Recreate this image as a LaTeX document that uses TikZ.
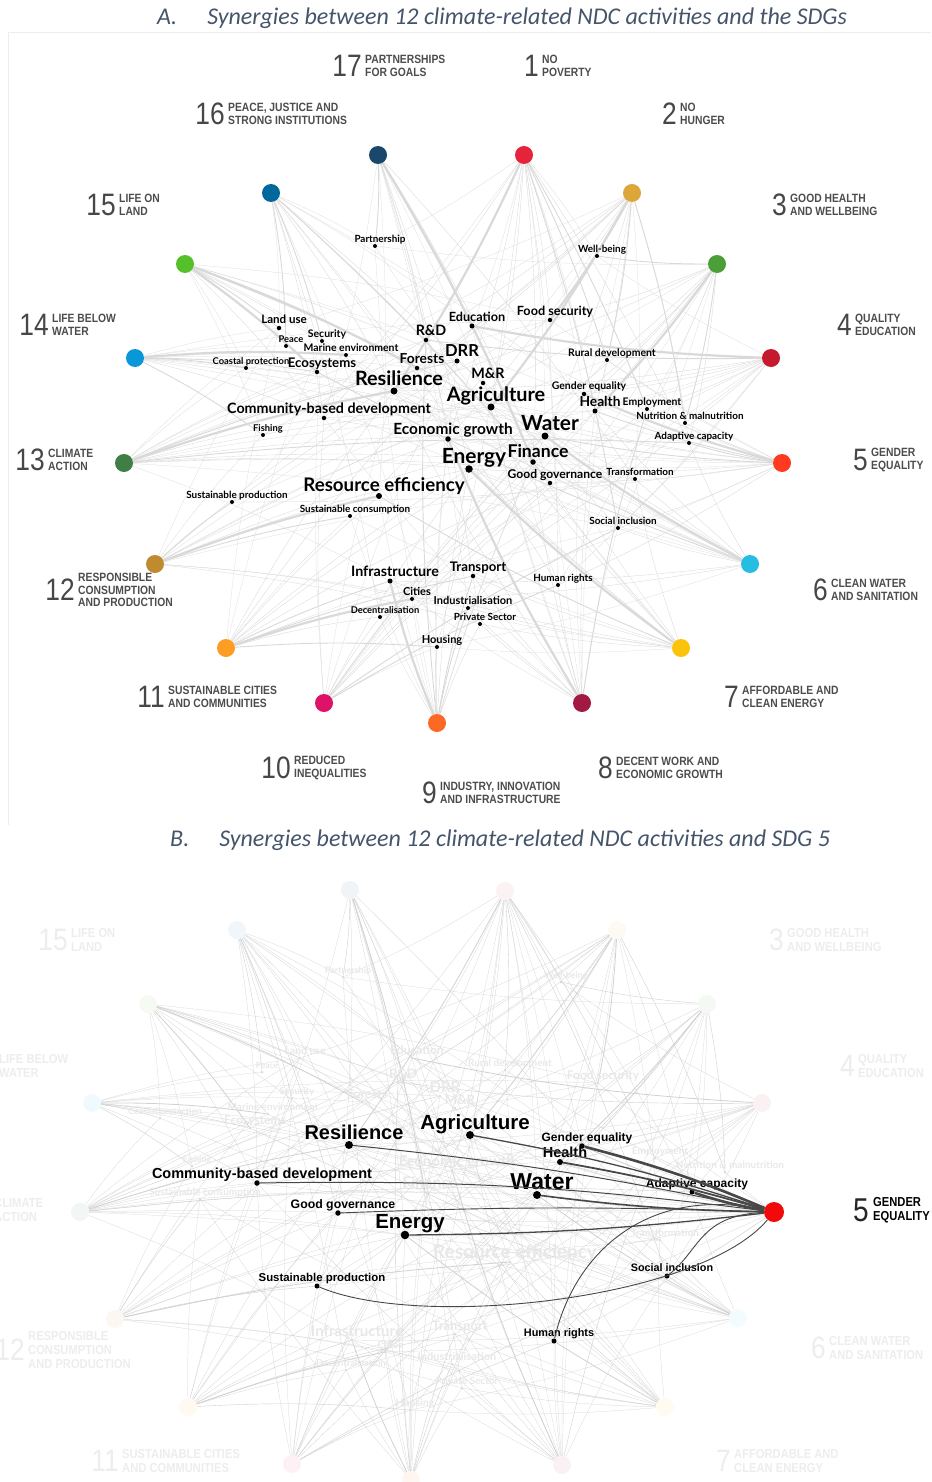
\documentclass[tikz,border=0pt]{standalone}
\usepackage{fontspec}
\setmainfont{Lato}
\newfontfamily\capfont[FakeStretch=0.86]{Liberation Sans}
\newfontfamily\numfont[FakeStretch=0.85]{Liberation Sans}
\newfontfamily\hlfont{Liberation Sans}
\newfontfamily\titlefont{Carlito}
\usetikzlibrary{backgrounds}

\definecolor{sdg1}{HTML}{E5243B}
\definecolor{sdg2}{HTML}{DDA63A}
\definecolor{sdg3}{HTML}{4C9F38}
\definecolor{sdg4}{HTML}{C5192D}
\definecolor{sdg5}{HTML}{FF3A21}
\definecolor{sdg6}{HTML}{26BDE2}
\definecolor{sdg7}{HTML}{FCC30B}
\definecolor{sdg8}{HTML}{A21942}
\definecolor{sdg9}{HTML}{FD6925}
\definecolor{sdg10}{HTML}{DD1367}
\definecolor{sdg11}{HTML}{FD9D24}
\definecolor{sdg12}{HTML}{BF8B2E}
\definecolor{sdg13}{HTML}{3F7E44}
\definecolor{sdg14}{HTML}{0A97D9}
\definecolor{sdg15}{HTML}{56C02B}
\definecolor{sdg16}{HTML}{00689D}
\definecolor{sdg17}{HTML}{19486A}
\definecolor{titleblue}{HTML}{44546A}
\definecolor{hired}{HTML}{F20A0A}

% edges per SDG: activity/line width
\newcommand{\sdgedges}{%
  1/{res/2.2,soc/0.9,empl/0.9,econ/0.35,agri/0.35,food/0.35,hous/0.35,fin/0.35,human/0.35,rural/0.9,adap/0.35,cbd/0.35,gend/0.25,heal/0.25,water/0.25,edu/0.25,well/0.25,sprod/0.25,part/0.25},
  2/{agri/2.2,food/2.2,nutr/0.9,rural/0.9,fish/0.35,res/0.35,water/0.35,sprod/0.35,adap/0.35,heal/0.35,econ/0.25,land/0.25,eco/0.25,fore/0.25,gend/0.25,trans/0.25,scons/0.25},
  3/{heal/2.2,well/0.9,nutr/0.9,water/0.35,food/0.35,ener/0.35,res/0.35,cities/0.35,gend/0.35,adap/0.35,hous/0.25,soc/0.25,human/0.25,empl/0.25,sprod/0.25,part/0.25},
  4/{edu/2.2,rd/0.9,gend/0.35,empl/0.35,soc/0.35,cbd/0.35,res/0.35,transp/0.35,fin/0.25,heal/0.25,well/0.25,econ/0.25,infra/0.25,human/0.25,decen/0.25},
  5/{gend/2.2,adap/0.9,heal/0.9,water/0.9,res/0.35,agri/0.35,cbd/0.35,gov/0.35,ener/0.35,sprod/0.35,soc/0.35,human/0.35,empl/0.35,nutr/0.35,edu/0.25,fin/0.25,econ/0.25,rural/0.25,food/0.25,decen/0.25},
  6/{water/2.2,eco/0.9,agri/0.35,heal/0.35,res/0.35,infra/0.35,cities/0.35,adap/0.35,trans/0.35,soc/0.35,drr/0.35,fore/0.25,land/0.25,hous/0.25,mari/0.25,coast/0.25,fin/0.25,ener/0.25},
  7/{ener/2.2,resef/0.9,fin/0.35,infra/0.35,transp/0.35,rd/0.35,indu/0.35,priv/0.35,trans/0.35,econ/0.35,water/0.25,res/0.25,cities/0.25,hous/0.25,scons/0.25,part/0.25},
  8/{econ/2.2,empl/0.9,priv/0.35,indu/0.35,fin/0.35,res/0.35,agri/0.35,heal/0.35,transp/0.35,human/0.35,gend/0.25,soc/0.25,edu/0.25,rural/0.25,food/0.25,infra/0.25,cbd/0.25},
  9/{infra/2.2,indu/0.9,transp/0.9,rd/0.9,priv/0.35,ener/0.35,fin/0.35,econ/0.35,hous/0.35,water/0.35,cities/0.25,resef/0.25,decen/0.25,drr/0.25,part/0.25,scons/0.25},
  10/{soc/0.9,human/0.9,decen/0.35,gend/0.35,empl/0.35,gov/0.35,fin/0.35,ener/0.35,cbd/0.35,edu/0.25,heal/0.25,hous/0.25,res/0.25,rural/0.25,water/0.25,secu/0.25},
  11/{cities/2.2,infra/0.9,hous/0.9,transp/0.9,decen/0.35,drr/0.35,res/0.35,resef/0.35,water/0.35,ener/0.35,gov/0.35,soc/0.25,scons/0.25,land/0.25,secu/0.25},
  12/{resef/2.2,scons/0.9,sprod/0.9,ener/0.35,agri/0.35,indu/0.35,econ/0.35,water/0.35,priv/0.35,food/0.25,fish/0.25,land/0.25,fore/0.25,trans/0.25,rural/0.25,cities/0.25},
  13/{res/2.2,adap/0.9,drr/0.9,ener/0.35,agri/0.35,cbd/0.35,fore/0.35,fin/0.35,water/0.35,trans/0.35,eco/0.35,coast/0.25,mari/0.25,land/0.25,heal/0.25,food/0.25,infra/0.25,soc/0.25,rd/0.25},
  14/{mari/2.2,coast/0.9,fish/0.9,eco/0.9,res/0.35,cbd/0.35,drr/0.35,water/0.35,fore/0.25,land/0.25,food/0.25,peace/0.25,trans/0.25,adap/0.25},
  15/{eco/2.2,fore/2.2,land/0.9,agri/0.35,res/0.35,water/0.35,cbd/0.35,drr/0.35,mari/0.25,coast/0.25,fish/0.25,adap/0.25,trans/0.25,food/0.25},
  16/{peace/0.9,secu/0.9,gov/0.9,human/0.35,soc/0.35,decen/0.35,cbd/0.35,res/0.35,fin/0.35,gend/0.25,econ/0.25,edu/0.25,part/0.25,land/0.25,hous/0.25},
  17/{part/0.9,fin/2.2,rd/0.35,gov/0.35,econ/0.35,ener/0.35,edu/0.35,priv/0.35,trans/0.35,indu/0.25,human/0.25,cbd/0.25,resef/0.25}}

\begin{document}
\begin{tikzpicture}[x=1pt, y=-1pt, label distance=1.5pt,
  sdg/.style={circle, inner sep=0pt, minimum size=18pt},
  actdot/.style={circle, fill=black, inner sep=0pt},
  lbl/.style={inner sep=0pt, text depth=0pt, xshift=5pt},
  linkA/.style={draw=black!15},
  linkB/.style={draw=black!18},
  linkhi/.style={draw=black!72},
  sdgnum/.style={anchor=east, inner sep=0pt, text=black!72,
              font=\numfont\fontsize{31}{31}\selectfont},
  sdgcap/.style={anchor=west, inner sep=0pt, align=left, text=black!70,
              font=\capfont\bfseries\fontsize{12}{12.5}\selectfont},
  titletext/.style={anchor=west, inner sep=0pt, text=titleblue,
                font=\titlefont\itshape\fontsize{24}{28}\selectfont}
]
  \useasboundingbox (0,0) rectangle (931,1482);

  % titles and frame of panel A
  \node[titletext] (titleA) at (157,18)
    {A.\hspace{30pt}Synergies between 12 climate-related NDC activities and the SDGs};
  \node[titletext] (titleB) at (170,840)
    {B.\hspace{30pt}Synergies between 12 climate-related NDC activities and SDG 5};
  \draw[black!7] (8,825) -- (8,32) -- (931,32);

  % SDG nodes (panel A and panel B)
  \foreach \n/\x/\y/\xb/\yb in {1/524/155/505/891, 2/632/193/617/930,
      3/717/264/707/1004, 4/771/358/762/1103, 5/782/463/774/1212,
      6/750/564/738/1318, 7/681/648/665/1407, 8/582/703/562/1465,
      9/437/723/411/1480, 10/324/703/292/1464, 11/226/648/188/1407,
      12/155/564/115/1319, 13/124/463/80/1212, 14/135/358/92/1103,
      15/185/264/148/1004, 16/271/193/237/930, 17/378/155/350/890}{
    \node[sdg, fill=sdg\n] (s\n) at (\x,\y) {};
    \ifnum\n=5
      \node[sdg, fill=hired, minimum size=20pt] (t\n) at (\xb,\yb) {};
    \else
      \node[sdg, fill=sdg\n!6] (t\n) at (\xb,\yb) {};
    \fi
  }

  % SDG captions, panel A
  \foreach \n/\x/\y/\txt in {17/362/66/{PARTNERSHIPS\\FOR GOALS},
      1/539/66/{NO\\POVERTY},
      16/225/114/{PEACE, JUSTICE AND\\STRONG INSTITUTIONS},
      2/677/114/{NO\\HUNGER},
      15/116/205/{LIFE ON\\LAND},
      3/787/205/{GOOD HEALTH\\AND WELLBEING},
      14/49/325/{LIFE BELOW\\WATER},
      4/852/325/{QUALITY\\EDUCATION},
      13/45/460/{CLIMATE\\ACTION},
      5/868/460/{GENDER\\EQUALITY},
      12/75/590/{RESPONSIBLE\\CONSUMPTION\\AND PRODUCTION},
      6/828/590/{CLEAN WATER\\AND SANITATION},
      11/165/697/{SUSTAINABLE CITIES\\AND COMMUNITIES},
      7/739/697/{AFFORDABLE AND\\CLEAN ENERGY},
      10/291/768/{REDUCED\\INEQUALITIES},
      8/613/768/{DECENT WORK AND\\ECONOMIC GROWTH},
      9/437/793/{INDUSTRY, INNOVATION\\AND INFRASTRUCTURE}}{
    \node[sdgnum] (n\n) at (\x,\y) {\n};
    \node[sdgcap] (c\n) at ({\x+3},\y) {\txt};
  }

  % SDG captions, panel B (faded, some cut by the edge)
  \foreach \n/\x/\y/\txt in {15/68/940/{LIFE ON\\LAND},
      3/784/940/{GOOD HEALTH\\AND WELLBEING},
      4/855/1066/{QUALITY\\EDUCATION},
      12/25/1350/{RESPONSIBLE\\CONSUMPTION\\AND PRODUCTION},
      6/826/1348/{CLEAN WATER\\AND SANITATION},
      11/119/1461/{SUSTAINABLE CITIES\\AND COMMUNITIES},
      7/731/1461/{AFFORDABLE AND\\CLEAN ENERGY}}{
    \node[sdgnum, text=black!7] (nb\n) at (\x,\y) {\n};
    \node[sdgcap, text=black!7, font=\capfont\bfseries\fontsize{13}{14}\selectfont]
      (cb\n) at ({\x+3},\y) {\txt};
  }
  \node[sdgcap, text=black!7, font=\capfont\bfseries\fontsize{13}{14}\selectfont]
    (cb14) at (-1,1066) {LIFE BELOW\\WATER};
  \node[sdgcap, text=black!7, font=\capfont\bfseries\fontsize{13}{14}\selectfont]
    (cb13) at (-6,1210) {CLIMATE\\ACTION};
  \node[sdgnum, text=black!85, font=\numfont\fontsize{33}{33}\selectfont] (nb5) at (869,1210) {5};
  \node[sdgcap, text=black, font=\capfont\bfseries\fontsize{13}{14.5}\selectfont]
    (cb5) at (873,1210) {GENDER\\EQUALITY};

  % activities: key/xA/yA/font/dot/xB/yB/fontB/highlight/text
  \foreach \k/\xa/\ya/\fs/\ds/\xb/\yb/\fb/\hl/\txt in {
      part/375/246/9/4/343/977/9/0/Partnership,
      well/597/256/9/4/561/982/9/0/Well-being,
      land/279/328/10.5/4.5/300/1058/10.5/0/Land use,
      peace/286/346/8.5/4/262/1072/8.5/0/Peace,
      secu/322/341/9.5/4/292/1098/9.5/0/Security,
      mari/346/355/9.5/4/268/1114/10/0/Marine environment,
      coast/246/368/8.5/4/160/1118/9/0/Coastal protection,
      eco/317/372/12/4.5/250/1128/12/0/Ecosystems,
      res/394/391/18/7/349/1145/20/1/Resilience,
      rd/426/340/13/4.5/398/1082/13/0/R\&D,
      fore/417/368/12.5/4.5/362/1102/12.5/0/Forests,
      drr/457/361/15/5/440/1096/15/0/DRR,
      edu/472/326/11.5/5/412/1058/12/0/Education,
      cbd/324/418/13/4.5/257/1183/14.5/1/Community-based development,
      food/550/320/11.5/4.5/598/1083/12/0/Food security,
      mr/483/383/13/4.5/455/1108/13/0/M\&R,
      agri/491/407/18/7/470/1135/20.5/1/Agriculture,
      rural/607/360/9.5/4/505/1070/10/0/Rural development,
      gend/584/394/9.5/4.5/582/1146/12/1/Gender equality,
      heal/595/411/12.5/5/560/1162/14.5/1/Health,
      empl/647/409/9.5/4/655/1158/10/0/Employment,
      nutr/685/423/9/4/725/1172/10/0/Nutrition \& malnutrition,
      adap/689/443/9/4/692/1192/12/1/Adaptive capacity,
      fish/263/435/8.5/4/192/1166/9/0/Fishing,
      econ/448/439/14/5.5/452/1170/15/0/Economic growth,
      water/545/436/19/7/537/1195/23/1/Water,
      fin/533/462/16/5.5/425/1192/16/0/Finance,
      ener/469/469/19/7.5/405/1235/20.5/1/Energy,
      gov/550/483/11/4.5/338/1213/12.3/1/Good governance,
      trans/635/479/9/4/660/1240/10/0/Transformation,
      resef/379/496/17/6/510/1262/19/0/Resource efficiency,
      sprod/232/502/9/4/317/1286/11.4/1/Sustainable production,
      scons/350/516/9/4/200/1199/10/0/Sustainable consumption,
      soc/618/528/9/4/667/1276/10.8/1/Social inclusion,
      infra/390/581/13/5/352/1340/15/0/Infrastructure,
      transp/473/576/12/4.5/455/1334/13/0/Transport,
      cities/412/599/10/4/385/1352/10/0/Cities,
      indu/468/608/10/4/452/1364/11/0/Industrialisation,
      decen/380/617/8.5/4/346/1370/9.5/0/Decentralisation,
      priv/480/624/9/4/462/1388/10/0/Private Sector,
      hous/437/647/10/4/410/1410/10.5/0/Housing,
      human/558/585/9/4/554/1341/10.9/1/Human rights}{
    \pgfmathsetmacro\fsa{1.1*\fs}
    \node[actdot, minimum size=\ds pt,
          label={[lbl, font=\bfseries\fontsize{\fsa}{\fsa}\selectfont]above:\txt}]
      (a-\k) at (\xa,\ya) {};
    \ifnum\hl=1
      \node[actdot, minimum size={\ds pt+1pt},
            label={[lbl, font=\hlfont\bfseries\fontsize{\fb}{\fb}\selectfont]above:\txt}]
        (b-\k) at (\xb,\yb) {};
    \else
      \node[actdot, fill=black!14, minimum size=3pt,
            label={[lbl, text=black!9, font=\bfseries\fontsize{\fb}{\fb}\selectfont]above:\txt}]
        (b-\k) at (\xb,\yb) {};
    \fi
  }

  % network edges, both panels
  \begin{scope}[on background layer]
    \foreach \s/\lst in \sdgedges {
      \foreach \a/\w in \lst {
        \draw[linkA, line width=\w pt] (s\s) to[bend left=4] (a-\a);
        \draw[linkB, line width={0.15pt+0.3*\w pt}] (t\s) to[bend left=4] (b-\a);
      }
    }
  \end{scope}

  % SDG 5 links in panel B
  \foreach \a/\w/\b in {gend/2.6/-4, adap/2.6/4, heal/1.8/-3, water/1.6/3,
      agri/1.3/-4, res/1/-3, cbd/1/-4, gov/0.9/-2, ener/1.3/3}{
    \draw[linkhi, line width=\w pt] (t5) to[bend left=\b] (b-\a);
  }
  \draw[linkhi, line width=0.9pt] (b-sprod) .. controls (420,1330) and (700,1300) .. (t5);
  \draw[linkhi, line width=0.9pt] (b-soc) .. controls (700,1250) and (700,1215) .. (t5);
  \draw[linkhi, line width=0.9pt] (b-human) .. controls (575,1250) and (650,1185) .. (t5);
\end{tikzpicture}
\end{document}
